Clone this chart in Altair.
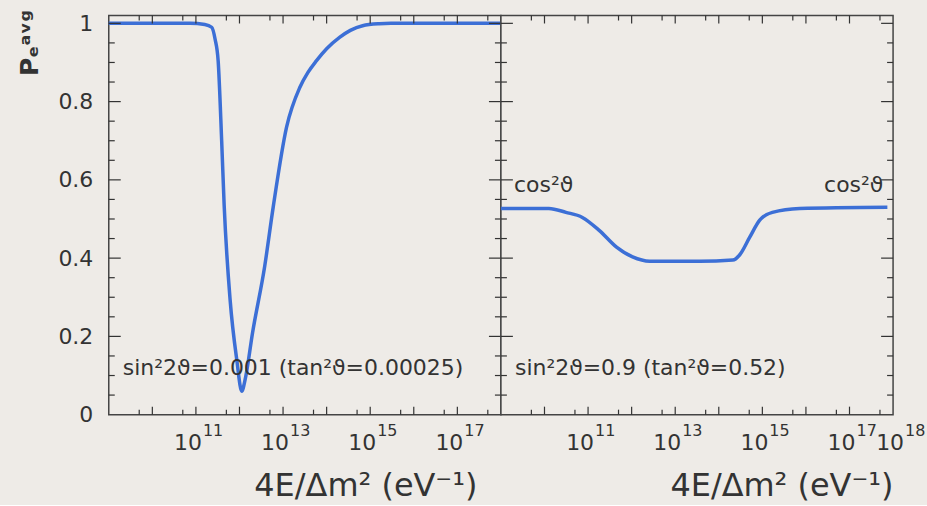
import altair as alt
import pandas as pd

# ---- data ----
left_x = [1e9, 7.4e10, 1.6e11, 2.3e11, 2.75e11, 3.24e11, 3.9e11, 4.45e11, 6.1e11, 8.67e11,
          1.13e12, 1.35e12, 2.0e12, 3.8e12, 5.95e12, 1.2e13, 2.42e13, 3.7e13, 5.8e13,
          1.0e14, 1.98e14, 3.5e14, 6.7e14, 1.6e15, 3.0e15, 1e18]
left_p = [1.0, 1.0, 0.997, 0.99, 0.96, 0.904, 0.70, 0.535, 0.293, 0.14,
          0.06, 0.09, 0.21, 0.38, 0.531, 0.734, 0.836, 0.874, 0.904,
          0.935, 0.964, 0.982, 0.994, 0.999, 1.0, 1.0]

right_x = [1e9, 1.26e10, 3.1e10, 7.4e10, 1.8e11, 4.5e11, 1.05e12, 2.6e12, 3.6e13, 2.1e14,
           3.0e14, 5.1e14, 8.7e14, 1.7e15, 7.2e15, 7.4e17]
right_p = [0.527, 0.527, 0.517, 0.504, 0.471, 0.428, 0.403, 0.392, 0.392, 0.395,
           0.408, 0.453, 0.497, 0.517, 0.527, 0.53]

left_label_vals = [1e11, 1e13, 1e15, 1e17]
left_label_exps = ["11", "13", "15", "17"]
right_label_vals = [1e11, 1e13, 1e15, 1e17]
right_label_exps = ["11", "13", "15", "17"]
edge_label_vals = [1e18]
edge_label_exps = ["18"]
y_labels = [0, 0.2, 0.4, 0.6, 0.8, 1.0]

x_major_ticks = [1e10, 1e11, 1e12, 1e13, 1e14, 1e15, 1e16, 1e17]
x_minor_ticks = [5e9, 5e10, 5e11, 5e12, 5e13, 5e14, 5e15, 5e16, 5e17]
y_major_ticks = [0.2, 0.4, 0.6, 0.8, 1.0]
y_minor_ticks = [0.05, 0.1, 0.15, 0.25, 0.3, 0.35, 0.45, 0.5, 0.55, 0.65, 0.7, 0.75,
                 0.85, 0.9, 0.95]

left_note = "sin²2ϑ=0.001 (tan²ϑ=0.00025)"
right_note = "sin²2ϑ=0.9 (tan²ϑ=0.52)"
note_x = 2.1e9
note_y = 0.12
cos_label = "cos²ϑ"
cos_left_x = 2.0e9
cos_right_x = 6.0e17
cos_y = 0.588

x_title = "4E/Δm² (eV⁻¹)"
y_title = "Pₑᵃᵛᵍ"

# ---- styling ----
W, H = 393, 400
BG = "#eeebe7"
INK = "#333333"
BLUE = "#3c6fd6"
FONT = "DejaVu Sans"

xscale = alt.Scale(type="log", domain=[1e9, 1e18], nice=False)
yscale = alt.Scale(domain=[0, 1.02], nice=False, zero=False)


def make_x_axis(title_end):
    return alt.Axis(labels=False, ticks=False, domain=False, grid=False,
                    title=x_title, titleFontSize=32, titleFont=FONT,
                    titleFontWeight="normal", titleColor=INK, titlePadding=56,
                    titleX=title_end, titleAlign="right", titleAnchor="end")


y_axis_left = alt.Axis(values=y_labels, format="~g", ticks=False, domain=False, grid=False,
                       labelFontSize=22, labelPadding=16, labelColor=INK, labelFont=FONT,
                       labelFlush=False, labelBound=False,
                       title=y_title, titleFontSize=25, titleFont=FONT,
                       titleFontWeight="bold", titleColor=INK, titleAnchor="end",
                       titleY=-6, titleAlign="right",
                       titlePadding=10, minExtent=56, maxExtent=56)


def panel(xs, ps, label_sets, show_y, texts, title_end):
    xa = make_x_axis(title_end)
    ya = y_axis_left if show_y else None
    X = lambda f: alt.X(f, type="quantitative", scale=xscale, axis=xa)
    Y = lambda f: alt.Y(f, type="quantitative", scale=yscale, axis=ya)

    curve = alt.Chart(pd.DataFrame({"x": xs, "p": ps})).mark_line(
        color=BLUE, strokeWidth=3.5, interpolate="monotone").encode(x=X("x"), y=Y("p"))

    layers = [curve]
    xmaj = pd.DataFrame({"x": x_major_ticks})
    xmin = pd.DataFrame({"x": x_minor_ticks})
    for df, ln in ((xmaj, 8), (xmin, 5)):
        layers.append(alt.Chart(df).mark_rule(color=INK, strokeWidth=1.2).encode(
            x=X("x"), y=alt.value(H), y2=alt.value(H - ln)))
        layers.append(alt.Chart(df).mark_rule(color=INK, strokeWidth=1.2).encode(
            x=X("x"), y=alt.value(0), y2=alt.value(ln)))
    ymaj = pd.DataFrame({"y": y_major_ticks})
    ymin = pd.DataFrame({"y": y_minor_ticks})
    for df, ln in ((ymaj, 12), (ymin, 6)):
        layers.append(alt.Chart(df).mark_rule(color=INK, strokeWidth=1.2).encode(
            y=Y("y"), x=alt.value(0), x2=alt.value(ln)))
        layers.append(alt.Chart(df).mark_rule(color=INK, strokeWidth=1.2).encode(
            y=Y("y"), x=alt.value(W), x2=alt.value(W - ln)))

    # tick labels: "10" with a raised exponent
    for vals, exps, shift in label_sets:
        lab = pd.DataFrame({"x": vals, "base": ["10"] * len(vals), "exp": exps})
        layers.append(alt.Chart(lab).mark_text(
            align="right", baseline="alphabetic", dx=6 + shift, fontSize=22, font=FONT,
            color=INK).encode(x=X("x"), y=alt.value(H + 35), text="base:N"))
        layers.append(alt.Chart(lab).mark_text(
            align="left", baseline="alphabetic", dx=7 + shift, fontSize=16, font=FONT,
            color=INK).encode(x=X("x"), y=alt.value(H + 21), text="exp:N"))

    for (tx, ty, t, al) in texts:
        layers.append(alt.Chart(pd.DataFrame({"x": [tx], "y": [ty], "t": [t]})).mark_text(
            align=al, baseline="middle", fontSize=22, font=FONT, color=INK).encode(
            x=X("x"), y=Y("y"), text="t:N"))

    return alt.layer(*layers).properties(width=W, height=H)


left = panel(left_x, left_p, [(left_label_vals, left_label_exps, 0)], True,
             [(note_x, note_y, left_note, "left")], W - 24)
right = panel(right_x, right_p,
              [(right_label_vals, right_label_exps, 0), (edge_label_vals, edge_label_exps, 5)],
              False,
              [(note_x, note_y, right_note, "left"),
               (cos_left_x, cos_y, cos_label, "left"),
               (cos_right_x, cos_y, cos_label, "right")], W)

chart = alt.hconcat(left, right, spacing=0, bounds="flush").properties(
    background=BG,
    padding={"left": 17, "top": 8, "right": 0, "bottom": 2},
).configure_view(stroke="#444444", strokeWidth=1.5, fill=BG)

chart.save("out.html", embed_options={"renderer": "svg", "actions": False})
